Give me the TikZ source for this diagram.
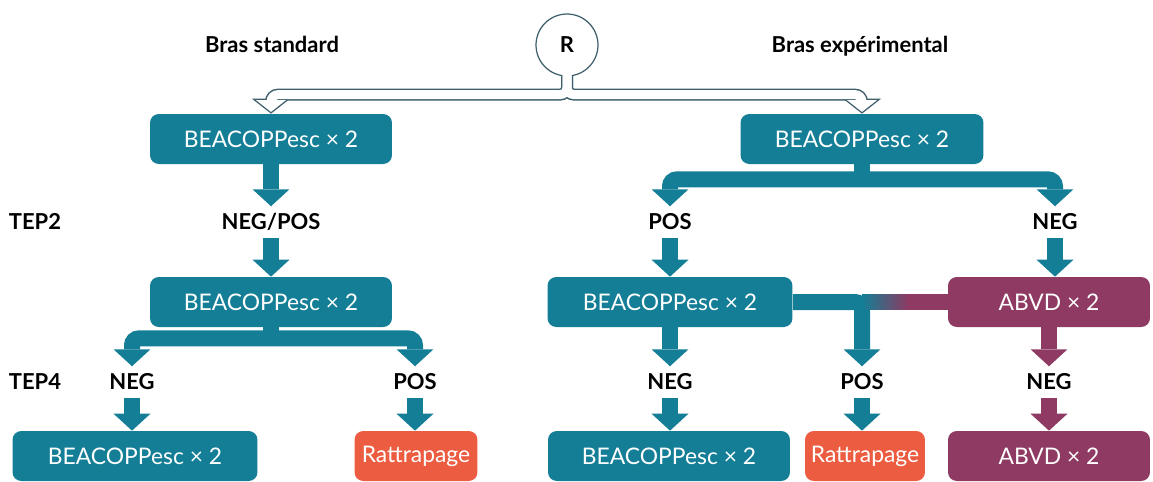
\documentclass[tikz,border=0pt]{standalone}
\usepackage{fontspec}
\setmainfont{Lato}
\usetikzlibrary{arrows.meta,calc}
\definecolor{tealcol}{HTML}{147E96}
\definecolor{plumcol}{HTML}{8E3A62}
\definecolor{rattcol}{HTML}{EC5C40}
\definecolor{rimcol}{HTML}{3E5F6B}

\begin{document}
\begin{tikzpicture}[x=0.02cm, y=-0.02cm,
  fat/.tip={Triangle[width=0.74cm,length=0.34cm,line width=0pt]},
  box/.style={rounded corners=5pt, minimum height=1cm, inner sep=0pt, text=white,
    font=\fontsize{13}{15}\selectfont},
  lbl/.style={font=\bfseries\fontsize{12.5}{14}\selectfont, inner sep=0.15cm,
    text height=9pt, text depth=0pt},
  arr/.style={line width=0.32cm, -fat},
  fork/.style={line width=0.32cm, fat-fat, rounded corners=4pt},
  rim/.style={rimcol, line width=0.24cm, rounded corners=4pt,
    -{Triangle[width=0.76cm,length=0.3cm,fill=white,line width=0.7pt]}},
  rimin/.style={white, line width=0.18cm, rounded corners=4pt, shorten >=0.27cm}
]
  \useasboundingbox (0,0) rectangle (1153,481);

  % randomisation
  \node[circle, draw=rimcol, fill=white, line width=0.7pt, minimum size=1.24cm,
    font=\bfseries\fontsize{12.5}{14}\selectfont] (R) at (567,45) {R};
  \node[lbl] (lstd) at (272,45) {Bras standard};
  \node[lbl] (lexp) at (860,45) {Bras expérimental};

  % boxes
  \node[box, fill=tealcol, minimum width=4.84cm] (b1) at (271,139) {BEACOPPesc × 2};
  \node[box, fill=tealcol, minimum width=4.84cm] (b2) at (271,302) {BEACOPPesc × 2};
  \node[box, fill=tealcol, minimum width=4.9cm] (b3) at (135,456) {BEACOPPesc × 2};
  \node[box, fill=rattcol, minimum width=2.46cm] (r1) at (416,456) {Rattrapage};
  \node[box, fill=tealcol, minimum width=4.86cm] (e1) at (862,139) {BEACOPPesc × 2};
  \node[box, fill=tealcol, minimum width=4.9cm] (e2) at (670,302) {BEACOPPesc × 2};
  \node[box, fill=plumcol, minimum width=4.04cm] (a2) at (1049,302) {ABVD × 2};
  \node[box, fill=tealcol, minimum width=4.84cm] (e3) at (669,456) {BEACOPPesc × 2};
  \node[box, fill=rattcol, minimum width=2.4cm] (r2) at (865,456) {Rattrapage};
  \node[box, fill=plumcol, minimum width=4.04cm] (a3) at (1049,456) {ABVD × 2};

  % TEP labels
  \node[lbl] (tep2) at (35,222) {TEP2};
  \node[lbl] (np) at (271,222) {NEG/POS};
  \node[lbl] (p2) at (670,222) {POS};
  \node[lbl] (n2) at (1055,222) {NEG};
  \node[lbl] (tep4) at (35,382) {TEP4};
  \node[lbl] (n4a) at (132,382) {NEG};
  \node[lbl] (p4a) at (415,382) {POS};
  \node[lbl] (n4b) at (670,382) {NEG};
  \node[lbl] (p4b) at (862,382) {POS};
  \node[lbl] (n4c) at (1049,382) {NEG};

  % hollow arrows from R
  \draw[rim] ($(R.south)+(0,-1)$) -- ++(0,19) -| (b1.north);
  \draw[rim] ($(R.south)+(0,-1)$) -- ++(0,19) -| (e1.north);
  \draw[rimin] ($(R.south)+(0,-2)$) -- ++(0,20) -| (b1.north);
  \draw[rimin] ($(R.south)+(0,-2)$) -- ++(0,20) -| (e1.north);

  % standard arm
  \draw[arr, tealcol] (b1.south) -- (np.north);
  \draw[arr, tealcol] (np.south) -- (np.south |- b2.north);
  \draw[tealcol, line width=0.32cm] (b2.south) -- ++(0,12);
  \draw[fork, tealcol] (n4a.north) |- ($(b2.south)+(0,11)$) -| (p4a.north);
  \draw[arr, tealcol] (n4a.south) -- (n4a.south |- b3.north);
  \draw[arr, tealcol] (p4a.south) -- (p4a.south |- r1.north);

  % experimental arm
  \draw[tealcol, line width=0.32cm] (e1.south) -- ++(0,16);
  \draw[fork, tealcol] (p2.north) |- ($(e1.south)+(0,15)$) -| (n2.north);
  \draw[arr, tealcol] (p2.south) -- (p2.south |- e2.north);
  \draw[arr, tealcol] (n2.south) -- (n2.south |- a2.north);
  \draw[arr, tealcol, rounded corners=4pt] (e2.east) -| (p4b.north);
  \coordinate (mix) at (910,302);
  \draw[plumcol, line width=0.32cm] (a2.west) -- (mix);
  \foreach \i [evaluate=\i as \pc using int(100-\i*100/23)] in {0,...,23}
    \fill[tealcol!\pc!plumcol] ($(mix)+({2*\i-48},-8)$) rectangle ($(mix)+({2*\i-45.5},8)$);
  \draw[arr, tealcol] (e2.south -| n4b) -- (n4b.north);
  \draw[arr, plumcol] (a2.south -| n4c) -- (n4c.north);
  \draw[arr, tealcol] (n4b.south) -- (n4b.south |- e3.north);
  \draw[arr, tealcol] (p4b.south) -- (p4b.south |- r2.north);
  \draw[arr, plumcol] (n4c.south) -- (n4c.south |- a3.north);
\end{tikzpicture}
\end{document}
